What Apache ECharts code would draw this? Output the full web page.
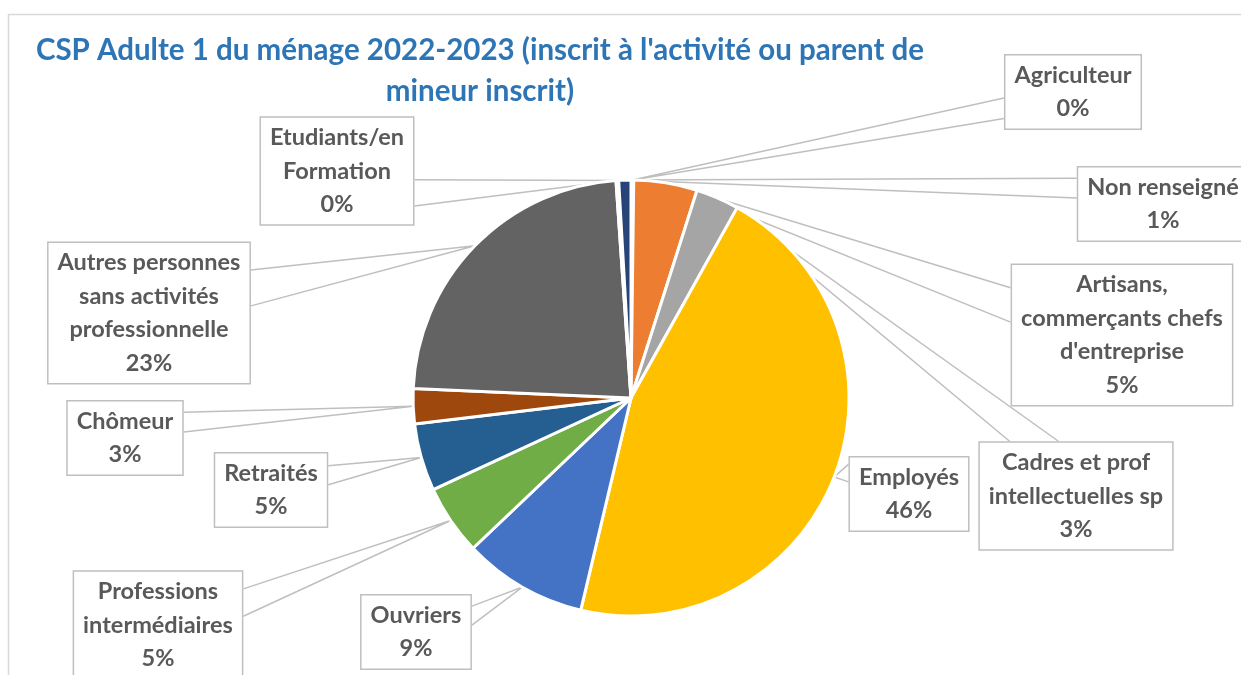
<!DOCTYPE html>
<html lang="fr">
<head>
<meta charset="UTF-8">
<title>CSP Adulte 1 du ménage 2022-2023</title>
<script src="https://cdn.jsdelivr.net/npm/echarts@6/dist/echarts.min.js"></script>
<style>
  * { margin: 0; padding: 0; }
  body { background: #fff; }
  #chart { width: 1241px; height: 675px; }
</style>
</head>
<body>
<div id="chart"></div>
<script>
// données (en %), ordre horaire depuis midi
const categories = [
  'Agriculteur',
  'Artisans,\ncommerçants chefs\nd\'entreprise',
  'Cadres et prof\nintellectuelles sp',
  'Employés',
  'Ouvriers',
  'Professions\nintermédiaires',
  'Retraités',
  'Chômeur',
  'Autres personnes\nsans activités\nprofessionnelle',
  'Etudiants/en\nFormation',
  'Non renseigné'
];
const values = [0.2, 4.7, 3.2, 45.6, 9.2, 5.2, 5.0, 2.6, 23.2, 0.2, 0.9];
const colors = ['#4472C4', '#ED7D31', '#A5A5A5', '#FFC000', '#4472C4', '#70AD47',
  '#255E91', '#9E480E', '#636363', '#997300', '#264478'];

// position des étiquettes (centre de la boîte) et côté du pointeur
const labelBoxes = [
  { x: 1073, y: 92, side: 'left', f: [0.58, 0.85] },
  { x: 1122, y: 335, side: 'left', f: [0.17, 0.41] },
  { x: 1076, y: 496, side: 'top', f: [0.16, 0.41] },
  { x: 909, y: 494, side: 'left', f: [0.11, 0.34] },
  { x: 416, y: 632, side: 'right', f: [0.16, 0.41] },
  { x: 158, y: 625, side: 'right', f: [0.17, 0.42] },
  { x: 271, y: 490, side: 'right', f: [0.18, 0.43] },
  { x: 125, y: 438, side: 'right', f: [0.16, 0.42] },
  { x: 149, y: 313, side: 'right', f: [0.2, 0.45] },
  { x: 337, y: 171, side: 'right', f: [0.58, 0.82] },
  { x: 1163, y: 204, side: 'left', f: [0.16, 0.42] }
];

const chart = echarts.init(document.getElementById('chart'));

const option = {
  backgroundColor: '#fff',
  title: {
    text: 'CSP Adulte 1 du ménage 2022-2023 (inscrit à l\'activité ou parent de\nmineur inscrit)',
    left: 480,
    top: 30,
    padding: 0,
    textAlign: 'center',
    textStyle: {
      color: '#2E75B6',
      fontFamily: 'Lato',
      fontWeight: 'bold',
      fontSize: 29.5,
      lineHeight: 41
    }
  },
  graphic: [{
    type: 'rect',
    silent: true,
    shape: { x: 8.5, y: 14.5, width: 1300, height: 700 },
    style: { fill: null, stroke: '#D9D9D9', lineWidth: 1.5 }
  }],
  series: [{
    type: 'pie',
    center: [631, 398],
    radius: 218,
    startAngle: 90,
    clockwise: true,
    avoidLabelOverlap: false,
    data: categories.map((c, i) => ({
      name: c,
      value: values[i],
      itemStyle: { color: colors[i] }
    })),
    itemStyle: { borderColor: '#fff', borderWidth: 3 },
    label: {
      show: true,
      position: 'outside',
      formatter: p => p.name + '\n' + Math.round(p.percent) + '%',
      color: '#595959',
      fontFamily: 'Lato',
      fontWeight: 'bold',
      fontSize: 23.5,
      lineHeight: 33.5,
      align: 'center',
      backgroundColor: '#fff',
      borderColor: '#BFBFBF',
      borderWidth: 1.5,
      padding: [3, 9]
    },
    labelLine: {
      show: true,
      lineStyle: { color: '#BFBFBF', width: 1.5 }
    },
    labelLayout: function (params) {
      const b = labelBoxes[params.dataIndex];
      const w = params.labelRect.width;
      const h = params.labelRect.height;
      const left = b.x - w / 2, top = b.y - h / 2;
      let p1, p2;
      if (b.side === 'left') {
        p1 = [left, top + h * b.f[0]]; p2 = [left, top + h * b.f[1]];
      } else if (b.side === 'right') {
        p1 = [left + w, top + h * b.f[0]]; p2 = [left + w, top + h * b.f[1]];
      } else {
        p1 = [left + w * b.f[0], top]; p2 = [left + w * b.f[1], top];
      }
      const anchor = params.labelLinePoints ? params.labelLinePoints[0] : p1;
      return {
        x: b.x,
        y: b.y,
        align: 'center',
        verticalAlign: 'middle',
        labelLinePoints: [p1, anchor, p2]
      };
    }
  }]
};

chart.setOption(option);
</script>
</body>
</html>
